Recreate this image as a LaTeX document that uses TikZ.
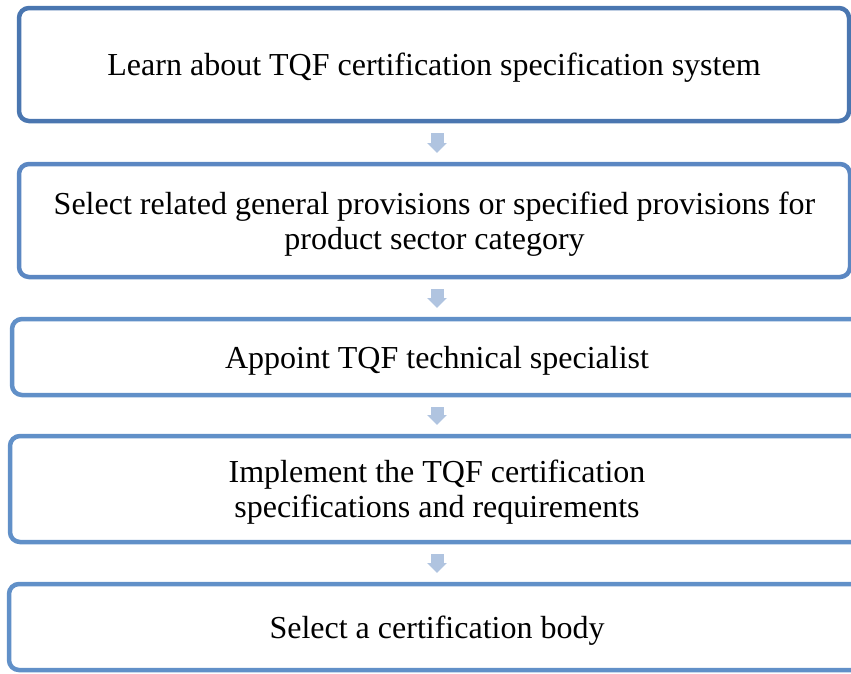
\documentclass[tikz,border=0pt]{standalone}
\usepackage{fontspec}
\setmainfont{Liberation Serif}
\usetikzlibrary{arrows.meta}

\definecolor{edgeone}{HTML}{4A76B0}
\definecolor{edgetwo}{HTML}{5B87C2}
\definecolor{edgerest}{HTML}{6190C8}
\definecolor{arrowfill}{HTML}{B0C4E0}

\begin{document}
\begin{tikzpicture}[x=1pt,y=-1pt,
                    stage/.style={draw=edgerest,rounded corners=10pt,line width=4.5pt,fill=white,
                                  align=center,inner sep=0pt,outer sep=0pt,text depth=0pt,
                                  font=\fontsize{32}{35}\selectfont},
                    flow/.style={draw=arrowfill,line width=13pt,-{Triangle[width=19pt,length=10pt]},
                                 shorten <=12pt,shorten >=11pt}]

  \clip (0,0) rectangle (851,673);

  \node[stage,draw=edgeone,minimum width=830pt,minimum height=113pt] (learn) at (434,64.5)
    {Learn about TQF certification specification system};
  \node[stage,draw=edgetwo,minimum width=831pt,minimum height=113pt] (select) at (434.5,220.5)
    {Select related general provisions or specified provisions for\\product sector category};
  \node[stage,minimum width=850pt,minimum height=76pt] (appoint) at (437,357)
    {Appoint TQF technical specialist};
  \node[stage,minimum width=854pt,minimum height=106pt] (implement) at (437,489)
    {Implement the TQF certification\\specifications and requirements};
  \node[stage,minimum width=856pt,minimum height=86pt] (body) at (437,627)
    {Select a certification body};

  % arrows between the stages
  \draw[flow] ([xshift=3pt]learn.south) -- ([xshift=2.5pt]select.north);
  \draw[flow] ([xshift=2.5pt]select.south) -- (appoint.north);
  \draw[flow] (appoint.south) -- (implement.north);
  \draw[flow] (implement.south) -- (body.north);
\end{tikzpicture}
\end{document}
